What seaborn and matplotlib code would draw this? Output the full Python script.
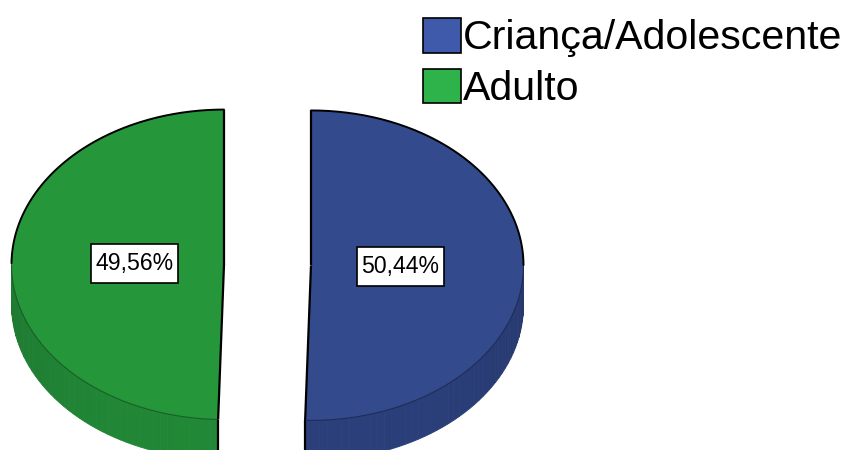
import numpy as np
import matplotlib
matplotlib.use("Agg")
import matplotlib.pyplot as plt
import seaborn as sns
from matplotlib.patches import Polygon, Patch
from matplotlib.path import Path
from matplotlib.colors import to_rgb

sns.set_theme(style="white")
plt.rcParams['font.family'] = ['Liberation Sans', 'DejaVu Sans']
plt.rcParams['text.color'] = 'black'

# data
categories = ["Criança/Adolescente", "Adulto"]
percentages = [50.44, 49.56]
label_texts = ["50,44%", "49,56%"]

# colours
top_colors = ["#334a8c", "#26963a"]
side_colors = ["#283b73", "#1f7f33"]
legend_colors = ["#3f5aab", "#2db34a"]

# pie geometry (pixel units, y grows downwards)
cx, cy = 267.5, 265
rx, ry = 212.5, 155
depth = 40
explode = 43.5
label_r = 0.42


def rim(theta, ox, oy, dz=0.0):
    t = np.radians(theta)
    return ox + rx * np.sin(t), oy - ry * np.cos(t) + dz


def label_box(x0, y0, width, height, mutation_size):
    # rectangle with more room above/below the text than at the sides
    px, py = 0.2 * mutation_size, 0.36 * mutation_size
    x0, y0 = x0 - px, y0 - py
    x1, y1 = x0 + width + 2 * px, y0 + height + 2 * py
    return Path([(x0, y0), (x1, y0), (x1, y1), (x0, y1), (x0, y0)], closed=True)


fig = plt.figure(figsize=(8.46, 4.5), dpi=100)
ax = fig.add_axes([0, 0, 1, 1])
ax.set_xlim(0, 846)
ax.set_ylim(450, 0)
ax.axis("off")

fracs = np.array(percentages) / np.sum(percentages)
ends = np.cumsum(fracs) * 360
starts = ends - fracs * 360

for i in range(len(categories)):
    a0, a1 = starts[i], ends[i]
    mid = (a0 + a1) / 2
    ox = cx + explode * np.sin(np.radians(mid))
    oy = cy - explode * np.cos(np.radians(mid)) * ry / rx

    # side wall (front part of the rim only)
    f0, f1 = max(a0, 90), min(a1, 270)
    if f1 > f0:
        edges = np.linspace(f0, f1, int((f1 - f0) / 2) + 2)
        base = np.array(to_rgb(side_colors[i]))
        for s0, s1 in zip(edges[:-1], edges[1:]):
            th = np.linspace(s0, s1, 4)
            xt, yt = rim(th, ox, oy)
            xb, yb = rim(th[::-1], ox, oy, depth)
            shade = 0.95 + 0.12 * (-np.cos(np.radians((s0 + s1) / 2)))
            col = np.clip(base * shade, 0, 1)
            ax.add_patch(Polygon(np.column_stack([np.r_[xt, xb], np.r_[yt, yb]]),
                                 closed=True, facecolor=col, edgecolor=col, lw=0.6))
        # visible vertical corners
        for a in (a0, a1):
            if 90 <= a <= 270:
                x0, y0 = rim(a, ox, oy)
                ax.plot([x0, x0], [y0, y0 + depth], color="black", lw=1.6, solid_capstyle="butt")

    # top face
    th = np.linspace(a0, a1, 300)
    xs, ys = rim(th, ox, oy)
    ax.add_patch(Polygon(np.column_stack([np.r_[ox, xs], np.r_[oy, ys]]),
                         closed=True, facecolor=top_colors[i], edgecolor="none"))

    # outlines
    back = (th < 90) | (th > 270)
    xb_, yb_ = xs.copy(), ys.copy()
    xb_[~back] = np.nan
    ax.plot(xb_, yb_, color="black", lw=1.4)
    xf_, yf_ = xs.copy(), ys.copy()
    xf_[back] = np.nan
    ax.plot(xf_, yf_, color=np.clip(np.array(to_rgb(side_colors[i])) * 0.75, 0, 1), lw=0.8)
    for a in (a0, a1):
        x0, y0 = rim(a, ox, oy)
        ax.plot([ox, x0], [oy, y0], color="black", lw=1.6, solid_capstyle="butt")

    # percentage label
    lx = ox + label_r * rx * np.sin(np.radians(mid))
    ly = oy - label_r * ry * np.cos(np.radians(mid))
    ax.text(lx, ly, label_texts[i], ha="center", va="center", fontsize=16.6,
            color="black",
            bbox=dict(boxstyle=label_box, facecolor="white", edgecolor="black", lw=1.2))

handles = [Patch(facecolor=c, edgecolor="black", lw=1.2) for c in legend_colors]
fig.legend(handles, categories, loc="upper left", bbox_to_anchor=(423 / 846, 1 - 18 / 450),
           frameon=False, fontsize=29.6, handlelength=0.92, handleheight=0.92,
           handletextpad=0.06, labelspacing=0.27, borderpad=0, borderaxespad=0)

fig.savefig("out.png", dpi=100)
